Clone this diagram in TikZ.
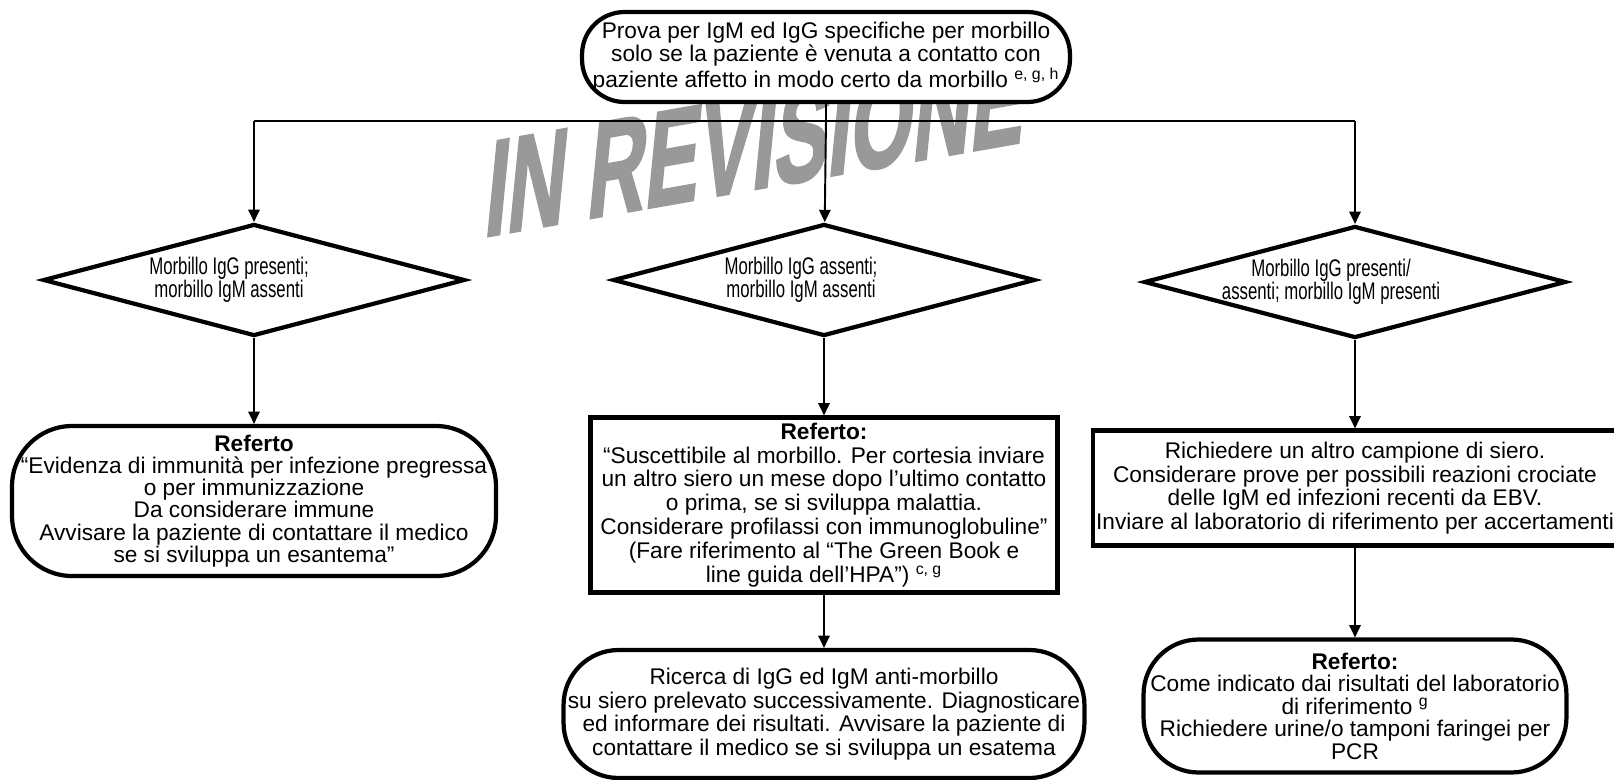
\documentclass[tikz,border=0pt]{standalone}
\usepackage{fontspec}
\setmainfont{Liberation Sans}
\newfontfamily\heavyfont[BoldFeatures={FakeBold=2}]{Liberation Sans}
\usepackage{graphicx}
\usetikzlibrary{arrows.meta,shapes.geometric}
\tikzset{every node/.style={ % Text of all boxes
            font=\fontsize{12.9}{13.4}\selectfont,
            align=center,
            inner sep=0pt},
        terminal/.style={ % Rounded boxes at start and end
            draw, line width=2.4pt, fill=white,
            rounded corners=1.1cm},
        report/.style={ % Plain rectangles
            draw, line width=2.4pt, fill=white},
        choice/.style={ % Diamonds with the test results
            draw, diamond, aspect=3.7, line width=2.4pt, fill=white,
            minimum width=8.44cm, minimum height=2.24cm},
        every edge/.style={ % Connectors with arrow heads
            draw, line width=1.1pt,
            -{Triangle[length=7pt,width=6.5pt]}},
        link/.style={line width=1.1pt} % Connectors without heads
        }
\newcommand{\narrowtext}[1]{\scalebox{0.74}[1.06]{#1}}

\begin{document}
\begin{tikzpicture}[x=0.02cm, y=-0.02cm]
    \useasboundingbox (0,0) rectangle (1614,779);

    % watermark, under everything
    \node[text=gray!80, font=\heavyfont\fontsize{76}{76}\selectfont\bfseries,
          rotate=10, xslant=0.28, xscale=0.61, transform shape] (wm) at (757,142) {IN REVISIONE};

    \node[terminal, rounded corners=0.85cm, minimum width=9.76cm, minimum height=1.8cm] (prova) at (826,57)
        {Prova per IgM ed IgG specifiche per morbillo\\
         solo se la paziente è venuta a contatto con\\
         paziente affetto in modo certo da morbillo \textsuperscript{e, g, h}};

    \coordinate (split) at (826,121);
    \coordinate (sl) at (254,121);
    \coordinate (sr) at (1355,121);

    \node[choice] (d1) at (254,280) {};
    \node[choice] (d2) at (824,280) {};
    \node[choice] (d3) at (1355,282) {};
    \node (t1) at (229,280) {\narrowtext{Morbillo IgG presenti;}\\ \narrowtext{morbillo IgM assenti}};
    \node (t2) at (801,280) {\narrowtext{Morbillo IgG assenti;}\\ \narrowtext{morbillo IgM assenti}};
    \node (t3) at (1331,282) {\narrowtext{Morbillo IgG presenti/}\\ \narrowtext{assenti; morbillo IgM presenti}};

    \node[terminal, font=\fontsize{12.9}{12.6}\selectfont, rounded corners=1.2cm,
          minimum width=9.68cm, minimum height=3.0cm] (r1) at (254,501)
        {\textbf{Referto}\\
         “Evidenza di immunità per infezione pregressa\\
         o per immunizzazione\\
         Da considerare immune\\
         Avvisare la paziente di contattare il medico\\
         se si sviluppa un esantema”};

    \node[report, font=\fontsize{12.9}{13.6}\selectfont, minimum width=9.34cm, minimum height=3.5cm] (b2) at (824,505)
        {\textbf{Referto:}\\
         “Suscettibile al morbillo. Per cortesia inviare\\
         un altro siero un mese dopo l’ultimo contatto\\
         o prima, se si sviluppa malattia.\\
         Considerare profilassi con immunoglobuline”\\
         (Fare riferimento al “The Green Book e\\
         line guida dell’HPA”) \textsuperscript{c, g}};

    \node[terminal, minimum width=10.42cm, minimum height=2.56cm] (r2) at (824,714)
        {Ricerca di IgG ed IgM anti-morbillo\\
         su siero prelevato successivamente. Diagnosticare\\
         ed informare dei risultati. Avvisare la paziente di\\
         contattare il medico se si sviluppa un esatema};

    \node[report, minimum width=10.48cm, minimum height=2.3cm] (b3) at (1355,488)
        {Richiedere un altro campione di siero.\\
         Considerare prove per possibili reazioni crociate\\
         delle IgM ed infezioni recenti da EBV.\\
         Inviare al laboratorio di riferimento per accertamenti};

    \node[terminal, font=\fontsize{12.9}{12.8}\selectfont, minimum width=8.46cm, minimum height=2.66cm] (r3) at (1355,706)
        {\textbf{Referto:}\\
         Come indicato dai risultati del laboratorio\\
         di riferimento \textsuperscript{g}\\
         Richiedere urine/o tamponi faringei per\\
         PCR};

    \draw[link] (prova) -- (split);
    \draw[link] (sl) -- (sr);

    \draw (sl) edge (d1);
    \draw (split) edge (d2);
    \draw (sr) edge (d3);

    \draw (d1) edge (r1);
    \draw (d2) edge (b2);
    \draw (b2) edge (r2);
    \draw (d3) edge (b3);
    \draw (b3) edge (r3);
\end{tikzpicture}
\end{document}
